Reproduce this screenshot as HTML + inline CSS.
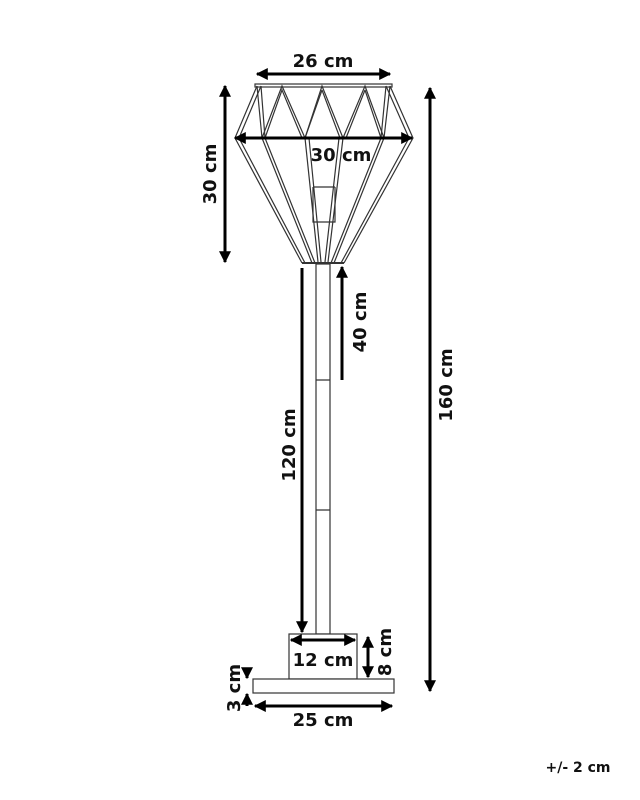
<!DOCTYPE html>
<html><head><style>
body{margin:0;background:#fff;}
svg{display:block;}
text{font-family:"DejaVu Sans","Liberation Sans",sans-serif;font-weight:bold;fill:#111;}
</style></head><body>
<svg width="640" height="800" viewBox="0 0 640 800">
<defs>
<marker id="a" viewBox="0 0 10 10" refX="9" refY="5" markerWidth="4" markerHeight="4" orient="auto-start-reverse"><path d="M0,0L10,5L0,10z" fill="#000"/></marker>
</defs>
<g fill="none" stroke="#333" stroke-width="1.2">
<rect x="255" y="84" width="137" height="3" fill="#fff"/>
<path d="M257,86L235,138L302,263M390,86L413,138L344,263"/>
<path d="M261,86L239,138L305,263M386,86L409,138L341,263"/>
<path d="M257,86L262,138L282,86L305,138L322,86L343,138L365,86L384,138L390,86"/>
<path d="M261,86L265,138L282,90L302,138M322,90L305,138M322,90L340,138M365,90L346,138M365,90L381,138L386,86"/>
<path d="M262,138L312,263M265,138L315,263M384,138L334,263M381,138L331,263"/>
<path d="M305,138L318,262M309,138L321,262M343,138L328,262M339,138L325,262"/>
<path d="M313,187H335M313,187V222H335V187"/>
<path d="M302,263H344" stroke-width="2"/>
<rect x="316" y="264" width="14" height="370" fill="#fff"/>
<path d="M316,380H330M316,510H330"/>
<rect x="289" y="634" width="68" height="45" fill="#fff"/>
<rect x="253" y="679" width="141" height="14" fill="#fff"/>
</g>
<g stroke="#000" stroke-width="3" marker-start="url(#a)" marker-end="url(#a)">
<line x1="257" y1="74" x2="390" y2="74"/>
<line x1="235" y1="138" x2="412" y2="138"/>
<line x1="225" y1="86" x2="225" y2="262"/>
<line x1="430" y1="88" x2="430" y2="691"/>
<line x1="291" y1="640" x2="355" y2="640"/>
<line x1="368" y1="637" x2="368" y2="677"/>
<line x1="255" y1="706" x2="392" y2="706"/>
</g>
<g stroke="#000" stroke-width="3" marker-end="url(#a)">
<line x1="342" y1="380" x2="342" y2="267"/>
<line x1="302" y1="268" x2="302" y2="632"/>
<line x1="247" y1="668" x2="247" y2="678"/>
<line x1="247" y1="706" x2="247" y2="694"/>
</g>
<text x="323" y="67" font-size="18" text-anchor="middle">26 cm</text>
<text x="341" y="161" font-size="18" text-anchor="middle">30 cm</text>
<text x="323" y="666" font-size="18" text-anchor="middle">12 cm</text>
<text x="323" y="726" font-size="18" text-anchor="middle">25 cm</text>
<text transform="translate(216,174) rotate(-90)" font-size="18" text-anchor="middle">30 cm</text>
<text transform="translate(366,322) rotate(-90)" font-size="18" text-anchor="middle">40 cm</text>
<text transform="translate(295,445) rotate(-90)" font-size="18" text-anchor="middle">120 cm</text>
<text transform="translate(452,385) rotate(-90)" font-size="18" text-anchor="middle">160 cm</text>
<text transform="translate(391,652) rotate(-90)" font-size="18" text-anchor="middle">8 cm</text>
<text transform="translate(240,688) rotate(-90)" font-size="18" text-anchor="middle">3 cm</text>
<text x="578" y="772" font-size="14" text-anchor="middle">+/- 2 cm</text>
</svg>
</body></html>
